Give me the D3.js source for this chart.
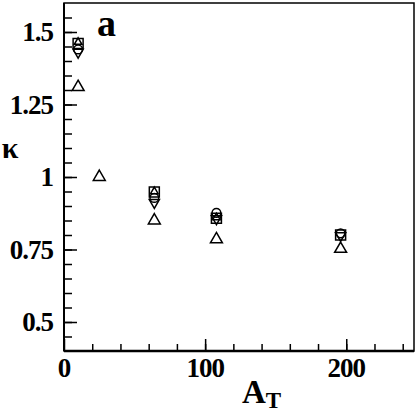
<!DOCTYPE html>
<html>
<head>
<meta charset="utf-8">
<script src="https://cdn.jsdelivr.net/npm/d3@7"></script>
<style>
  body { margin: 0; background: #fff; }
  text { font-family: "Liberation Serif", "DejaVu Serif", serif; font-weight: bold; fill: #000; }
</style>
</head>
<body>
<div class="chart"></div>
<script>
"use strict";
(function(){

// values
var squares   = [[10, 1.46], [64, 0.948], [108, 0.858], [196, 0.800]];
var circles   = [[10, 1.44], [64, 0.928], [108, 0.876], [196, 0.806]];
var downTris  = [[10, 1.43], [64, 0.912], [108, 0.856], [196, 0.798]];
var smallTris = [[10, 1.465], [64, 0.950], [108, 0.860]];
var triangles = [[10, 1.31], [25, 1.0], [64, 0.85], [108, 0.785], [196, 0.752]];

var xTicks = [0, 100, 200];
var yTicks = [0.5, 0.75, 1, 1.25, 1.5];
var yTickLabels = ['0.5', '0.75', '1', '1.25', '1.5'];

var width = 417;
var height = 415;

var svg = d3.select('.chart')
            .append('svg')
            .attr('width', width)
            .attr('height', height);

var x = d3.scaleLinear().domain([0, 248]).range([64, 414]);
var y = d3.scaleLinear().domain([0.4, 1.6]).range([351, 3]);

// frame
svg.append('rect')
   .attr('x', x(0)).attr('y', y(1.6))
   .attr('width', x(248) - x(0)).attr('height', y(0.4) - y(1.6))
   .attr('fill', 'none').attr('stroke', '#000').attr('stroke-width', 1.5);
svg.append('line')
   .attr('x1', x(0)).attr('x2', x(0)).attr('y1', y(1.6)).attr('y2', y(0.4))
   .attr('stroke', '#000').attr('stroke-width', 2);
svg.append('line')
   .attr('x1', x(0)).attr('x2', x(248)).attr('y1', y(0.4)).attr('y2', y(0.4))
   .attr('stroke', '#000').attr('stroke-width', 2.5);

// ticks, drawn inward
var yAxis = d3.axisRight(y).tickValues(yTicks).tickSize(13).tickFormat('');
var yMinor = d3.axisRight(y).tickValues(d3.range(0.45, 1.6, 0.05)).tickSize(8).tickFormat('');
var xAxis = d3.axisTop(x).tickValues(xTicks).tickSize(12).tickFormat('');
var xMinor = d3.axisTop(x).tickValues(d3.range(20, 248, 20)).tickSize(7).tickFormat('');

[yAxis, yMinor].forEach(function(a){
  svg.append('g').attr('transform', 'translate(' + x(0) + ',0)').call(a)
     .call(function(g){ g.select('.domain').remove(); g.selectAll('line').attr('stroke-width', 1.5); });
});
[xAxis, xMinor].forEach(function(a){
  svg.append('g').attr('transform', 'translate(0,' + y(0.4) + ')').call(a)
     .call(function(g){ g.select('.domain').remove(); g.selectAll('line').attr('stroke-width', 1.5); });
});

// tick labels
svg.selectAll('.ylab')
   .data(yTicks)
   .enter().append('text')
   .attr('class', 'ylab')
   .attr('x', 53)
   .attr('y', function(d){ return y(d) + 9; })
   .attr('text-anchor', 'end')
   .attr('font-size', 27)
   .attr('letter-spacing', -1)
   .text(function(d, i){ return yTickLabels[i]; });

svg.selectAll('.xlab')
   .data(xTicks)
   .enter().append('text')
   .attr('class', 'xlab')
   .attr('x', function(d){ return x(d); })
   .attr('y', 377)
   .attr('text-anchor', 'middle')
   .attr('font-size', 27)
   .attr('letter-spacing', -1)
   .text(function(d){ return d; });

// axis titles and panel letter
svg.append('text').attr('x', 10).attr('y', 158).attr('text-anchor', 'middle')
   .attr('font-size', 30).text('κ');
svg.append('text').attr('x', 97).attr('y', 36).attr('font-size', 38).text('a');
var xt = svg.append('text').attr('x', 242).attr('y', 403).attr('font-size', 33);
xt.append('tspan').text('A');
xt.append('tspan').attr('font-size', 23).attr('dy', 5).text('T');

// markers
function drawSeries(data, type, size, rotate){
  var sym = d3.symbol().type(type).size(size);
  svg.append('g').selectAll('path')
     .data(data)
     .enter().append('path')
     .attr('d', sym)
     .attr('transform', function(d){
       return 'translate(' + x(d[0]) + ',' + y(d[1]) + ')' + (rotate ? ' rotate(180)' : '');
     })
     .attr('fill', 'none')
     .attr('stroke', '#000')
     .attr('stroke-width', 1.5);
}

drawSeries(squares, d3.symbolSquare, 100, false);
drawSeries(circles, d3.symbolCircle, 60, false);
drawSeries(downTris, d3.symbolTriangle, 45, true);
drawSeries(smallTris, d3.symbolTriangle, 25, false);
drawSeries(triangles, d3.symbolTriangle, 62, false);

})();
</script>
</body>
</html>
